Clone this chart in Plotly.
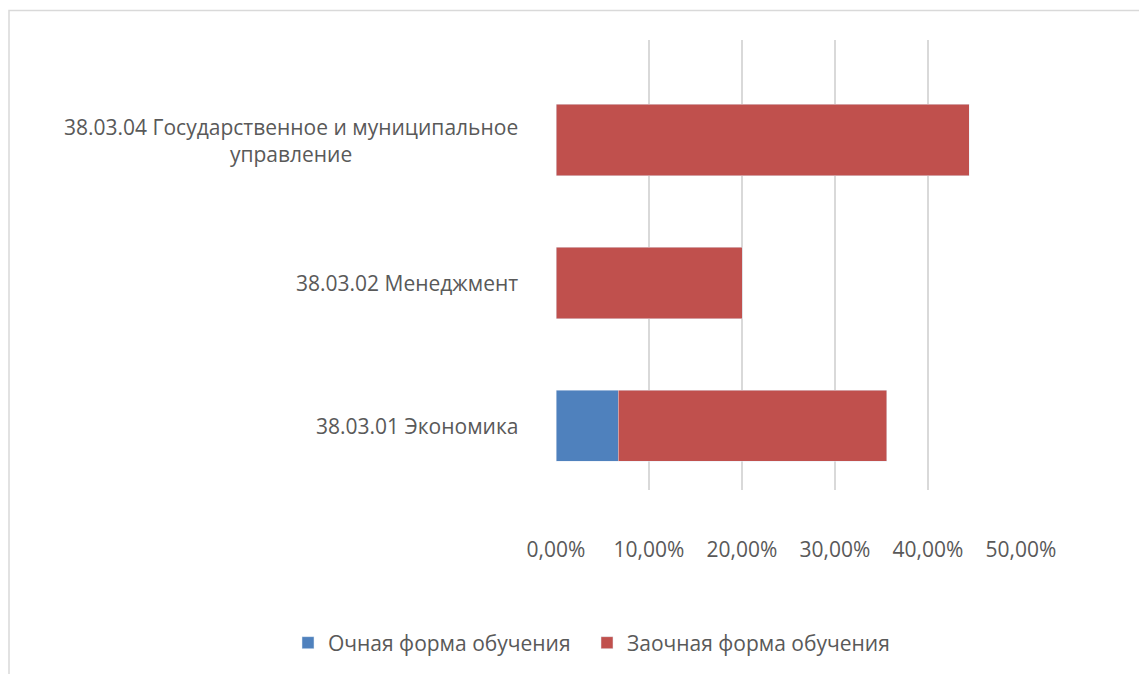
import plotly.graph_objects as go

categories = ["38.03.01 Экономика", "38.03.02 Менеджмент",
              "38.03.04 Государственное и муниципальное<br>управление"]
ochnaya = [0.0667, 0.0, 0.0]
zaochnaya = [0.2889, 0.20, 0.4444]
series_names = ["Очная форма обучения", "Заочная форма обучения"]
tick_vals = [0, 0.1, 0.2, 0.3, 0.4, 0.5]

FONT = "Open Sans"
TXT = "#595959"
FS = 21

W, H = 1139, 666
L, R, T, B = 548, 126, 32, 184
PW = W - L - R
PH = H - T - B

fig = go.Figure()
fig.add_trace(go.Bar(y=list(range(len(categories))), x=ochnaya, orientation="h",
                     name=series_names[0], marker=dict(color="#4F81BD"),
                     hoverinfo="x+name", legend="legend"))
fig.add_trace(go.Bar(y=list(range(len(categories))), x=zaochnaya, orientation="h",
                     name=series_names[1], marker=dict(color="#C0504D"),
                     hoverinfo="x+name", legend="legend2"))

for i, c in enumerate(categories):
    fig.add_annotation(x=(512 - L) / PW, y=i, xref="paper", yref="y", text=c,
                       showarrow=False, xanchor="right", yanchor="middle",
                       align="center", font=dict(family=FONT, size=FS, color=TXT))

# chart frame (top and left edges visible)
fig.add_shape(type="rect", xref="paper", yref="paper",
              x0=(1 - L) / PW, x1=(W + 40 - L) / PW,
              y0=-(H + 40 - T - PH) / PH, y1=1 + (T - 2.5) / PH,
              line=dict(color="#D9D9D9", width=1.5), layer="below")

leg_common = dict(orientation="h", xref="paper", yref="container",
                  y=1 - 635 / H, xanchor="left", yanchor="middle",
                  bgcolor="rgba(0,0,0,0)",
                  font=dict(family=FONT, size=FS, color=TXT))

fig.update_layout(
    width=W, height=H,
    barmode="stack", bargap=0.5,
    separators=", ",
    paper_bgcolor="white", plot_bgcolor="white",
    margin=dict(l=L, r=R, t=T, b=B),
    font=dict(family=FONT, size=FS, color=TXT),
    xaxis=dict(range=[0, 0.5], tickvals=tick_vals, tickformat=".2%",
               showgrid=True, gridcolor="#D9D9D9", gridwidth=1.5,
               zeroline=False, showline=False, ticks="",
               ticklabelstandoff=45,
               tickfont=dict(family=FONT, size=FS, color=TXT)),
    yaxis=dict(range=[-0.45, 2.7], showticklabels=False, showgrid=False,
               zeroline=False, showline=False, ticks=""),
    legend=dict(x=(280 - L) / PW, **leg_common),
    legend2=dict(x=(579 - L) / PW, **leg_common),
    showlegend=True,
)

fig.write_html("out.html")
